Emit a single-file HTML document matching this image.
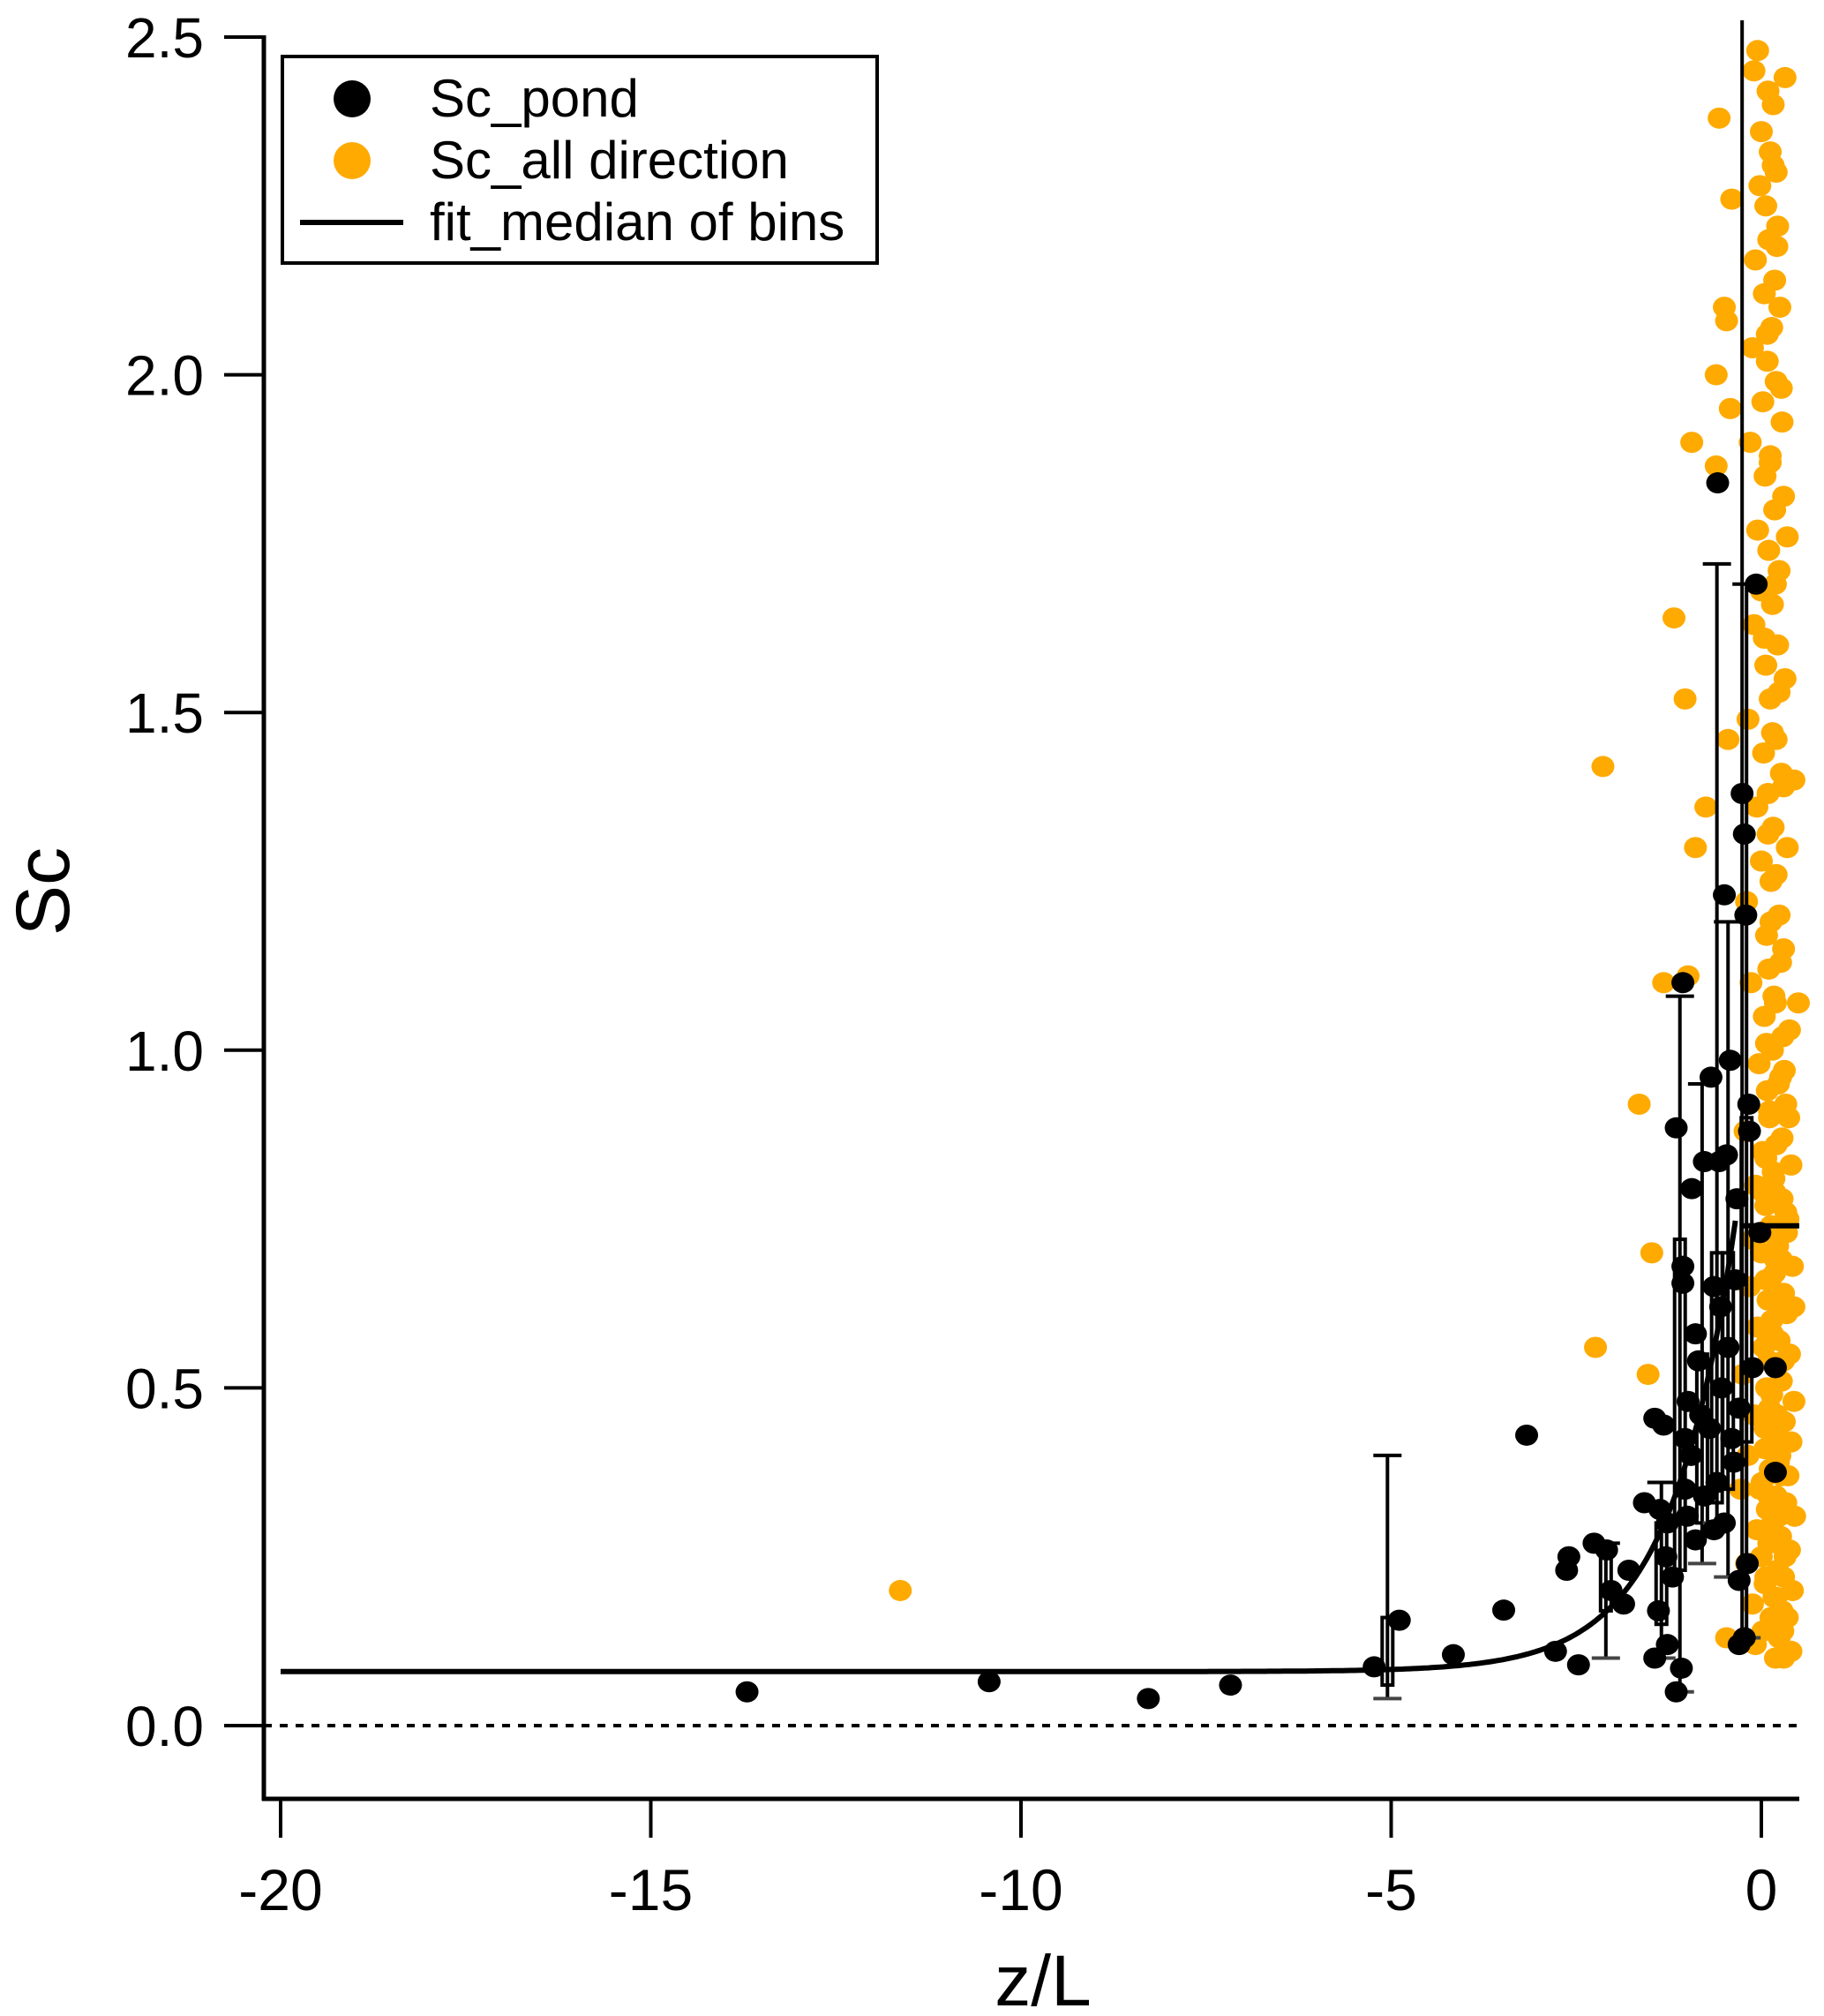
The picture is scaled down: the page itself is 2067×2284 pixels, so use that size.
<!DOCTYPE html>
<html><head><meta charset="utf-8"><style>
html,body{margin:0;padding:0;background:#fff;}
svg{display:block;font-family:"Liberation Sans",Arial,sans-serif;}
</style></head><body>
<svg id="chart" width="2067" height="2284" viewBox="0 0 2067 2284" xmlns="http://www.w3.org/2000/svg">
<g id="plot"></g>
<g id="axes"></g>
<g>
<rect x="320" y="64" width="674" height="234" fill="#fff" stroke="#000" stroke-width="4"/>
<circle cx="399" cy="112" r="21" fill="#000"/>
<text x="487" y="132" font-size="60">Sc_pond</text>
<circle cx="399" cy="182" r="21" fill="#ffaa00"/>
<text x="487" y="202" font-size="60">Sc_all direction</text>
<line x1="340" y1="252" x2="457" y2="252" stroke="#000" stroke-width="6"/>
<text x="487" y="272" font-size="60">fit_median of bins</text>
</g>
<text x="1182" y="2272" font-size="82" text-anchor="middle">z/L</text>
<text transform="translate(78,1010) rotate(-90)" font-size="86" text-anchor="middle">Sc</text>
</svg>
<script>
const xTicks=[-20,-15,-10,-5,0];
const yTicks=[0.0,0.5,1.0,1.5,2.0,2.5];
const yTickLabels=["0.0","0.5","1.0","1.5","2.0","2.5"];
const pondZ=[-13.7,-10.43,-8.28,-7.17,-5.23,-4.89,-4.16,-3.48,-3.17,-2.78,-2.6,-2.63,-2.47,-2.26,-2.09,-2.03,-1.86,-1.79,-1.58,-1.44,-1.37,-1.32,-1.44,-1.39,-1.27,-1.29,-1.2,-1.27,-1.15,-1.15,-1.06,-1.06,-1.06,-1.03,-1.03,-1.08,-0.99,-0.94,-0.89,-0.85,-0.82,-0.77,-0.68,-0.64,-0.59,-0.57,-0.54,-0.5,-0.47,-0.45,-0.42,-0.4,-0.37,-0.33,-0.3,-0.3,-0.26,-0.23,-0.21,-0.19,-0.17,-0.16,-0.12,-0.07,-0.02,0.19,0.19,-0.23,-0.64,-0.77,-0.89,-0.55,-0.35,-0.7,-0.95,-1.0,-0.5,-0.6,-0.3];
const pondSc=[0.05,0.065,0.04,0.06,0.087,0.156,0.105,0.171,0.43,0.11,0.25,0.23,0.09,0.27,0.26,0.2,0.18,0.23,0.33,0.455,0.32,0.445,0.1,0.17,0.3,0.25,0.22,0.12,0.05,0.885,1.1,0.68,0.655,0.425,0.35,0.085,0.48,0.795,0.58,0.54,0.46,0.835,0.96,0.65,1.84,0.835,0.5,1.23,0.845,0.56,0.985,0.425,0.39,0.78,0.12,0.215,1.38,1.32,1.2,0.24,0.92,0.88,0.53,1.69,0.73,0.53,0.375,0.13,0.29,0.34,0.275,0.62,0.66,0.44,0.4,0.31,0.3,0.36,0.47];
const allZ=[-11.63,-2.14,-2.24,-1.65,-1.48,-1.53,-1.18,-1.03,-0.94,-0.89,-0.75,-0.99,-1.32,-0.57,-0.61,-0.61,-0.45,-0.5,-0.47,-0.4,-0.42,0.44,0.5,0.3,-0.47,
-0.05,-0.1,0.09,0.16,0.0,0.12,0.2,-0.02,0.06,0.22,0.1,-0.08,0.18,0.04,0.25,0.14,-0.12,0.08,0.2,0.02,0.28,-0.15,0.12,0.05,0.3,0.18,-0.05,0.1,0.24,0.0,0.15,-0.1,0.22,0.06,0.32,0.12,-0.18,0.2,0.03,0.27,0.09,-0.06,0.16,0.35,0.0,0.13,-0.2,0.24,0.07,0.3,0.1,-0.14,0.19,0.04,0.38,0.15,-0.03,0.26,0.08,0.33,0.11,-0.22,0.2,0.02,0.4,0.17,-0.08,0.28,0.06,0.36,0.13,-0.12,0.22,0.0,0.42,0.18,-0.16,0.3,0.09,0.34,0.14,-0.05,0.24,0.03,0.38,0.2,-0.25,0.27,0.07,0.44,0.11,-0.1,0.31,0.16,0.4,0.05,-0.18,0.23,0.12,0.36,0.01,-0.28,0.2,0.33,0.08,0.45,0.15,-0.06,0.26,0.1,0.38,0.0,-0.2,0.22,0.3,0.05,0.42,0.17,-0.12,0.28,0.35,0.13,0.02,0.24,-0.08,0.4,0.19,0.31,0.06,0.44,0.21,0.15,0.33,0.27,-0.02,0.37,
0.14,0.22,0.06,0.29,0.18,0.1,0.25,0.03,0.32,0.16,0.21,0.08,0.27,0.12,0.35,0.19,0.04,0.24,0.15,0.3,0.09,0.2,0.13,0.26,0.17,0.07,0.23,0.11,0.28,0.16,0.02,0.34,0.19,0.12,0.25,0.08,0.3,0.14,0.21,0.05,0.18,0.27,0.1,0.24,0.15,0.32,0.06,0.2,0.13,0.29];
const allSc=[0.2,1.42,0.56,0.92,0.7,0.52,1.64,1.52,1.9,1.3,1.36,1.11,1.1,2.38,2.0,1.865,1.46,2.1,2.08,2.26,1.95,1.4,1.07,0.1,0.13,
2.48,2.45,2.42,2.4,2.36,2.33,2.3,2.28,2.25,2.22,2.2,2.17,2.14,2.12,2.1,2.07,2.04,2.02,1.99,1.96,1.93,1.9,1.88,1.85,1.82,1.8,1.77,1.74,1.71,1.68,1.66,1.63,1.6,1.57,1.55,1.52,1.49,1.46,1.44,1.41,1.38,1.36,1.33,1.3,1.28,1.25,1.22,1.2,1.17,1.15,1.12,1.1,1.07,1.05,1.03,1.0,0.98,0.96,0.94,0.92,0.9,0.88,0.86,0.85,0.83,0.81,0.8,0.78,0.77,0.75,0.74,0.72,0.71,0.7,0.68,0.67,0.65,0.64,0.63,0.61,0.6,0.59,0.57,0.56,0.55,0.53,0.52,0.51,0.5,0.48,0.47,0.46,0.45,0.43,0.42,0.41,0.4,0.39,0.38,0.37,0.36,0.35,0.34,0.33,0.32,0.31,0.3,0.29,0.28,0.27,0.26,0.25,0.24,0.23,0.22,0.21,0.2,0.19,0.18,0.17,0.16,0.15,0.14,0.13,0.12,0.11,0.1,0.97,0.84,0.62,0.44,0.58,0.76,0.69,0.35,0.9,0.49,0.27,0.66,1.02,0.79,0.54,0.4,0.73,
2.44,2.31,2.19,2.06,1.98,1.87,1.76,1.69,1.61,1.53,1.47,1.39,1.32,1.26,1.19,1.13,1.08,1.01,0.95,0.91,0.87,0.82,0.79,0.73,0.69,0.66,0.62,0.58,0.54,0.5,0.46,0.44,0.41,0.37,0.34,0.31,0.28,0.25,0.22,0.19,0.16,0.14,0.12,1.04,0.93,0.85,0.71,0.6,0.48,0.39];
const binZ=[-5.05,-2.1,-1.35,-1.1,-0.8,-0.6,-0.45,-0.2];
const binLo=[0.04,0.10,0.10,0.05,0.24,0.30,0.22,0.13];
const binQ1=[0.06,0.17,0.15,0.23,0.30,0.33,0.35,0.42];
const binQ3=[0.16,0.25,0.30,0.72,0.55,0.70,0.70,0.90];
const binHi=[0.40,0.27,0.36,1.08,0.95,1.72,1.19,1.69];
const fitBase=0.08, fitAmp=1.0, fitRate=1.155;

const NS="http://www.w3.org/2000/svg";
const X0=318,X1=1996,XMIN=-20,XMAX=0;
const Y0=1955,Y1=42,YMIN=0,YMAX=2.5;
const AXL=299,AXR=2039,AXB=2038;
const xs=v=>X0+(v-XMIN)/(XMAX-XMIN)*(X1-X0);
const ys=v=>Y0-(v-YMIN)/(YMAX-YMIN)*(Y0-Y1);
function mk(tag,attrs,parent){const e=document.createElementNS(NS,tag);for(const k in attrs)e.setAttribute(k,attrs[k]);parent.appendChild(e);return e;}
const plot=document.getElementById('plot'),axes=document.getElementById('axes');

let e=mk('line',{x1:AXL,y1:ys(0),x2:AXR,y2:ys(0),stroke:'#000','stroke-width':4,'stroke-dasharray':'9 9'},plot);



for(let i=0;i<allZ.length;i++){
 const c=mk('ellipse',{cx:xs(allZ[i]),cy:ys(allSc[i]),rx:13,ry:12,fill:'#ffaa00'},plot);
 
 
}
for(let i=0;i<binZ.length;i++){
 const x=xs(binZ[i]);
 const g=mk('g',{stroke:'#000','stroke-width':4,fill:'none'},plot);
 
 
 mk('line',{x1:x,y1:ys(binLo[i]),x2:x,y2:ys(binHi[i])},g);
 mk('line',{x1:x-16,y1:ys(binHi[i]),x2:x+16,y2:ys(binHi[i])},g);
 mk('line',{x1:x-16,y1:ys(binLo[i]),x2:x+16,y2:ys(binLo[i]),stroke:'#444'},g);
 mk('rect',{x:x-6,y:ys(binQ3[i]),width:12,height:ys(binQ1[i])-ys(binQ3[i])},g);
}
for(let i=0;i<pondZ.length;i++){
 const c=mk('ellipse',{cx:xs(pondZ[i]),cy:ys(pondSc[i]),rx:13,ry:12,fill:'#000'},plot);
 
 
}
let d='';
for(let z=-20;z<=-0.3;z+=0.05){d+=(d?'L':'M')+xs(z).toFixed(1)+','+ys(fitBase+fitAmp*Math.exp(fitRate*z)).toFixed(1);}
e=mk('path',{d:d,stroke:'#000','stroke-width':6,fill:'none'},plot);


e=mk('line',{x1:xs(-0.26),y1:23,x2:xs(-0.26),y2:ys(0.13),stroke:'#000','stroke-width':4},plot);


e=mk('line',{x1:xs(-0.26),y1:ys(0.74),x2:AXR,y2:ys(0.74),stroke:'#000','stroke-width':6},plot);



e=mk('line',{x1:AXL,y1:40,x2:AXL,y2:AXB+2,stroke:'#000','stroke-width':5},axes);


e=mk('line',{x1:AXL-2,y1:AXB,x2:AXR,y2:AXB,stroke:'#000','stroke-width':5},axes);


yTicks.forEach((v,i)=>{
 const t=mk('line',{x1:AXL-45,y1:ys(v),x2:AXL,y2:ys(v),stroke:'#000','stroke-width':4},axes);
 
 
 const l=mk('text',{x:231,y:ys(v)+23,'font-size':64,'text-anchor':'end'},axes);
 l.textContent=yTickLabels[i];
 
 
});
xTicks.forEach(v=>{
 const t=mk('line',{x1:xs(v),y1:AXB,x2:xs(v),y2:2082,stroke:'#000','stroke-width':4},axes);
 
 
 const l=mk('text',{x:xs(v),y:2164,'font-size':66,'text-anchor':'middle'},axes);
 l.textContent=String(v);
 
 
});
</script>
</body></html>
